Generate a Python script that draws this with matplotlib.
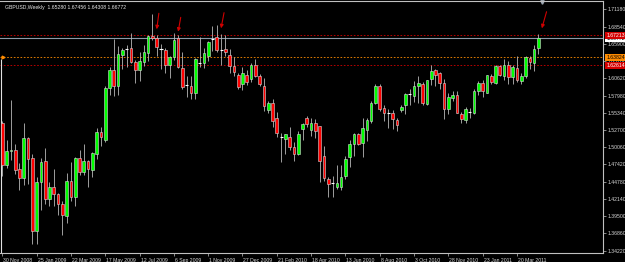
import numpy as np
import matplotlib
matplotlib.use("Agg")
import matplotlib.pyplot as plt
import matplotlib.transforms as mtransforms

title = "GBPUSD,Weekly  1.65280 1.67456 1.64308 1.66772"

# weekly bars, 30 Nov 2008 .. 24 Apr 2011
opens = [1.537, 1.473, 1.495, 1.496, 1.467, 1.454, 1.515, 1.484, 1.373, 1.448,
         1.479, 1.421, 1.440, 1.429, 1.414, 1.395, 1.449, 1.424, 1.484, 1.463,
         1.479, 1.466, 1.490, 1.524, 1.512, 1.591, 1.619, 1.594, 1.642, 1.651,
         1.652, 1.631, 1.619, 1.631, 1.645, 1.671, 1.668, 1.651, 1.649, 1.626,
         1.638, 1.668, 1.622, 1.596, 1.594, 1.583, 1.630, 1.630, 1.640, 1.666,
         1.669, 1.650, 1.651, 1.642, 1.625, 1.611, 1.597, 1.611, 1.605, 1.626,
         1.610, 1.594, 1.557, 1.568, 1.545, 1.517, 1.513, 1.517, 1.501, 1.490,
         1.528, 1.545, 1.527, 1.537, 1.533, 1.487, 1.452, 1.446, 1.440, 1.440,
         1.457, 1.486, 1.506, 1.521, 1.507, 1.527, 1.540, 1.569, 1.595, 1.560,
         1.553, 1.553, 1.542, 1.558, 1.565, 1.582, 1.579, 1.594, 1.597, 1.567,
         1.605, 1.619, 1.614, 1.599, 1.559, 1.576, 1.581, 1.551, 1.542, 1.555,
         1.553, 1.586, 1.599, 1.584, 1.610, 1.599, 1.625, 1.610, 1.626, 1.608,
         1.622, 1.602, 1.610, 1.637, 1.630, 1.6528]
highs = [1.541, 1.512, 1.573, 1.505, 1.476, 1.538, 1.517, 1.490, 1.455, 1.484,
         1.499, 1.448, 1.467, 1.431, 1.418, 1.461, 1.478, 1.486, 1.496, 1.505,
         1.481, 1.494, 1.530, 1.532, 1.595, 1.623, 1.666, 1.655, 1.653, 1.657,
         1.675, 1.634, 1.647, 1.657, 1.672, 1.705, 1.672, 1.658, 1.652, 1.641,
         1.675, 1.672, 1.646, 1.610, 1.609, 1.637, 1.669, 1.652, 1.664, 1.686,
         1.688, 1.674, 1.672, 1.651, 1.638, 1.614, 1.623, 1.619, 1.630, 1.636,
         1.613, 1.606, 1.572, 1.575, 1.555, 1.523, 1.521, 1.531, 1.509, 1.526,
         1.538, 1.549, 1.545, 1.544, 1.533, 1.503, 1.455, 1.457, 1.474, 1.473,
         1.487, 1.511, 1.523, 1.523, 1.545, 1.545, 1.571, 1.598, 1.598, 1.565,
         1.559, 1.557, 1.546, 1.565, 1.584, 1.590, 1.602, 1.609, 1.601, 1.603,
         1.626, 1.621, 1.616, 1.605, 1.583, 1.587, 1.587, 1.554, 1.562, 1.560,
         1.590, 1.602, 1.603, 1.611, 1.612, 1.626, 1.627, 1.636, 1.633, 1.626,
         1.640, 1.614, 1.640, 1.640, 1.657, 1.67456]
lows = [1.457, 1.469, 1.481, 1.459, 1.435, 1.443, 1.445, 1.352, 1.353, 1.405,
        1.414, 1.410, 1.411, 1.397, 1.366, 1.384, 1.419, 1.411, 1.458, 1.458,
        1.440, 1.455, 1.483, 1.502, 1.509, 1.581, 1.579, 1.580, 1.620, 1.623,
        1.629, 1.599, 1.602, 1.625, 1.633, 1.665, 1.640, 1.621, 1.614, 1.607,
        1.634, 1.622, 1.590, 1.578, 1.575, 1.575, 1.624, 1.622, 1.632, 1.648,
        1.646, 1.627, 1.640, 1.615, 1.609, 1.590, 1.588, 1.596, 1.600, 1.608,
        1.595, 1.556, 1.553, 1.532, 1.516, 1.478, 1.490, 1.497, 1.480, 1.488,
        1.511, 1.532, 1.518, 1.514, 1.448, 1.449, 1.424, 1.425, 1.436, 1.435,
        1.452, 1.470, 1.487, 1.504, 1.485, 1.510, 1.538, 1.567, 1.556, 1.541,
        1.530, 1.528, 1.525, 1.555, 1.552, 1.565, 1.570, 1.569, 1.565, 1.566,
        1.596, 1.595, 1.589, 1.544, 1.552, 1.571, 1.553, 1.537, 1.537, 1.545,
        1.552, 1.580, 1.577, 1.583, 1.598, 1.598, 1.609, 1.604, 1.597, 1.597,
        1.600, 1.597, 1.606, 1.620, 1.617, 1.64308]
closes = [1.473, 1.495, 1.497, 1.466, 1.454, 1.515, 1.483, 1.373, 1.448, 1.478,
          1.421, 1.440, 1.429, 1.414, 1.397, 1.449, 1.424, 1.484, 1.463, 1.479,
          1.467, 1.492, 1.524, 1.516, 1.591, 1.619, 1.594, 1.643, 1.650, 1.6505,
          1.631, 1.619, 1.632, 1.646, 1.671, 1.668, 1.654, 1.651, 1.626, 1.638,
          1.665, 1.624, 1.593, 1.596, 1.583, 1.636, 1.630, 1.645, 1.662, 1.666,
          1.650, 1.650, 1.646, 1.625, 1.616, 1.593, 1.614, 1.600, 1.626, 1.610,
          1.597, 1.563, 1.569, 1.540, 1.522, 1.517, 1.521, 1.501, 1.490, 1.521,
          1.536, 1.536, 1.537, 1.525, 1.479, 1.453, 1.444, 1.446, 1.446, 1.455,
          1.483, 1.506, 1.521, 1.506, 1.530, 1.542, 1.569, 1.594, 1.559, 1.553,
          1.553, 1.544, 1.534, 1.562, 1.582, 1.582, 1.595, 1.599, 1.568, 1.603,
          1.617, 1.611, 1.599, 1.559, 1.578, 1.581, 1.553, 1.544, 1.559, 1.555,
          1.587, 1.599, 1.586, 1.611, 1.600, 1.625, 1.611, 1.626, 1.608, 1.623,
          1.603, 1.610, 1.638, 1.631, 1.651, 1.66772]

date_bars = [0, 8, 16, 24, 32, 40, 48, 56, 64, 72, 80, 88, 96, 104, 112, 120]
date_labels = ["30 Nov 2008", "25 Jan 2009", "22 Mar 2009", "17 May 2009",
               "12 Jul 2009", "6 Sep 2009", "1 Nov 2009", "27 Dec 2009",
               "21 Feb 2010", "18 Apr 2010", "13 Jun 2010", "8 Aug 2010",
               "3 Oct 2010", "28 Nov 2010", "23 Jan 2011", "20 Mar 2011"]

price_ticks = [1.71180, 1.68540, 1.65900, 1.63260, 1.60620, 1.57980, 1.55340,
               1.52700, 1.50060, 1.47420, 1.44780, 1.42140, 1.39500, 1.36860,
               1.34220]
price_labels = ["1.71180", "1.68540", "1.65900", "1.63260", "1.60620", "1.57980",
                "1.55340", "1.52700", "1.50060", "1.47420", "1.44780", "1.42140",
                "1.39500", "1.36860", "1.34220"]

bid_price = 1.66772
level_prices = [1.67213, 1.63824, 1.62614]
level_labels = ["1.67213", "1.63824", "1.62614"]
level_colors = ["#d40000", "#ff8c00", "#d40000"]

arrow_tails = [(36.5, 1.7057), (41.6, 1.6995), (51.7, 1.7066), (126.9, 1.7081)]
arrow_heads = [(36.0, 1.6812), (41.0, 1.6775), (51.0, 1.6827), (125.8, 1.6827)]

font = "Liberation Sans"
fs = 3.7

fig = plt.figure(figsize=(6.25, 2.62), dpi=100)
fig.patch.set_facecolor("black")
ax = fig.add_axes([0, 9 / 262, 603 / 625, 252 / 262])
ax.set_facecolor("black")

o = np.array(opens)
h = np.array(highs)
l = np.array(lows)
c = np.array(closes)
x = np.arange(len(o))

ax.vlines(x, l, h, color="#b8b8b8", linewidth=0.6, zorder=2)

doji = np.abs(c - o) < 0.0012
up = (c >= o) & ~doji
down = (c < o) & ~doji
ax.bar(x[up], (c - o)[up], bottom=o[up], width=0.62, color="#00ff00",
       edgecolor="#d8d8d8", linewidth=0.4, zorder=3)
ax.bar(x[down], (o - c)[down], bottom=c[down], width=0.62, color="#ff0000",
       edgecolor="#d8d8d8", linewidth=0.4, zorder=3)
ax.hlines(c[doji], x[doji] - 0.35, x[doji] + 0.35, color="white", linewidth=0.8, zorder=3)

# levels
ax.axhline(bid_price, color="#8c9aa8", linewidth=0.8, zorder=1)
for p, col in zip(level_prices, level_colors):
    ax.axhline(p, color=col, linewidth=0.6, linestyle=(0, (2, 2)), zorder=1)

ax.vlines(-0.2, 1.3, 1.635, color="#e0e0e0", linewidth=0.8, zorder=2)
ax.plot([0.1], [1.6382], marker=">", color="#ff8c00", markersize=2, zorder=4)

for tail, head in zip(arrow_tails, arrow_heads):
    ax.annotate("", xy=head, xytext=tail,
                arrowprops=dict(arrowstyle="-|>", color="#d00000", lw=0.8,
                                mutation_scale=5, shrinkA=0, shrinkB=0))

ax.set_xlim(-0.54, 140.06)
ax.set_ylim(1.33862, 1.72451)

# axes look
for side in ["left"]:
    ax.spines[side].set_visible(False)
for side in ["right", "bottom", "top"]:
    ax.spines[side].set_color("#c0c0c0")
    ax.spines[side].set_linewidth(0.8)

ax.yaxis.tick_right()
ax.set_yticks(price_ticks)
ax.set_yticklabels(price_labels, fontsize=fs, color="#d8d8d8", family=font)
ax.tick_params(axis="y", length=2, width=0.5, color="#c0c0c0", pad=1)

ax.set_xticks(date_bars)
ax.set_xticklabels(date_labels, fontsize=fs, color="#d8d8d8", family=font, ha="left")
ax.tick_params(axis="x", length=2.5, width=0.5, color="#c0c0c0", pad=0.8)
offset = mtransforms.ScaledTranslation(1 / 100, 0, fig.dpi_scale_trans)
for lab in ax.get_xticklabels():
    lab.set_transform(lab.get_transform() + offset)

# price label boxes on the right axis
trans = mtransforms.blended_transform_factory(ax.transAxes, ax.transData)
ax.text(1.006, bid_price - 0.0009, "1.66772", transform=trans, fontsize=fs, family=font,
        color="black", va="center", ha="left", clip_on=False,
        bbox=dict(facecolor="white", edgecolor="none", pad=0.8))
for p, lab, col in zip(level_prices, level_labels, level_colors):
    ax.text(1.006, p, lab, transform=trans, fontsize=fs, family=font,
            color="white" if col != "#ff8c00" else "black", va="center", ha="left",
            clip_on=False, bbox=dict(facecolor=col, edgecolor="none", pad=0.8))

ax.plot([125.8], [1.7225], marker="v", color="#9aa4b0", markersize=2.5, clip_on=False)

ax.text(0.008, 0.985, title, transform=ax.transAxes, fontsize=fs, family=font,
        color="#e8e8e8", va="top", ha="left")

fig.savefig("out.png", dpi=100, facecolor="black")
